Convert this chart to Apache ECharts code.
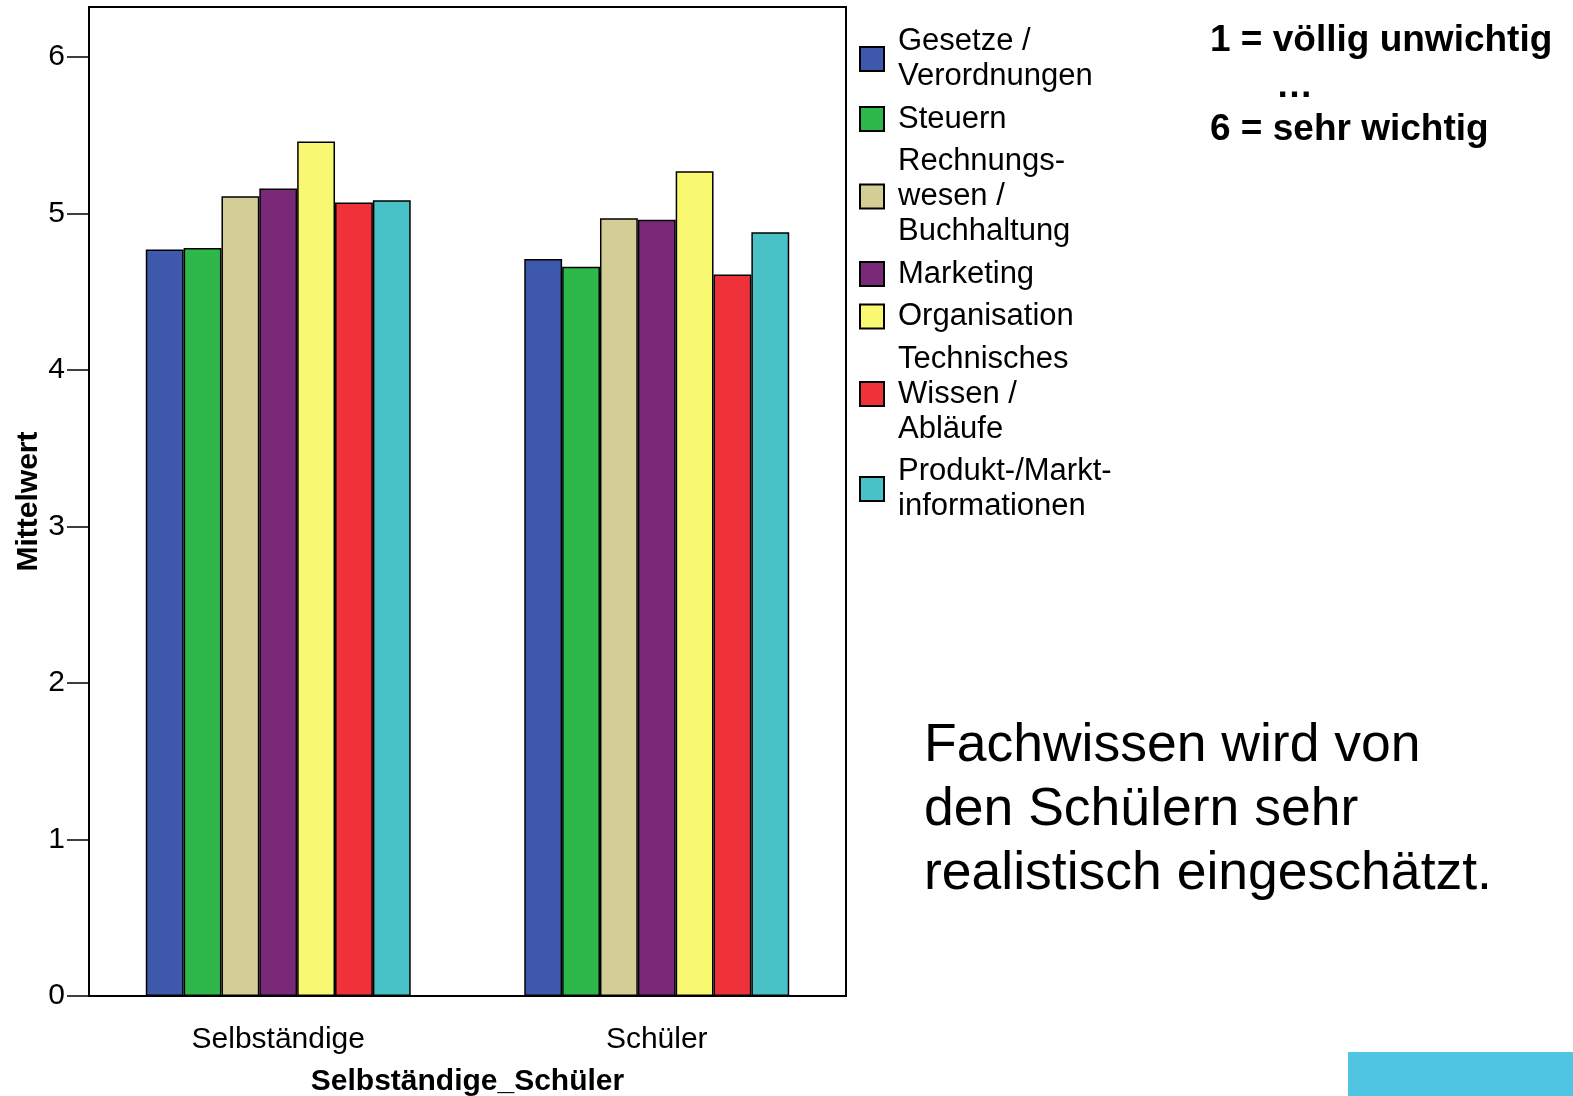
<!DOCTYPE html>
<html><head><meta charset="utf-8">
<script src="https://cdn.jsdelivr.net/npm/echarts@6/dist/echarts.min.js"></script>
<style>html,body{margin:0;padding:0;background:#fff}#c{width:1573px;height:1096px}</style>
</head><body><div id="c"></div>
<script>
const categories = ['Selbständige', 'Schüler'];
const seriesNames = ['Gesetze /\nVerordnungen', 'Steuern', 'Rechnungs-\nwesen /\nBuchhaltung', 'Marketing', 'Organisation', 'Technisches\nWissen /\nAbläufe', 'Produkt-/Markt-\ninformationen'];
const gesetze = [4.77, 4.71];
const steuern = [4.78, 4.66];
const rechnungswesen = [5.11, 4.97];
const marketing = [5.16, 4.96];
const organisation = [5.46, 5.27];
const technisches = [5.07, 4.61];
const produkt = [5.085, 4.88];
const yTicks = [0, 1, 2, 3, 4, 5, 6];
const colors = ['#3e59ab', '#2fb84a', '#d4cd96', '#7a2878', '#f9f871', '#ef3239', '#48c2c6'];
const values = [gesetze, steuern, rechnungswesen, marketing, organisation, technisches, produkt];
const FONT = 'Liberation Sans, Arial, sans-serif';

const chart = echarts.init(document.getElementById('c'));
chart.setOption({
  animation: false,
  backgroundColor: '#fff',
  textStyle: { fontFamily: FONT },
  grid: { left: 89, top: 7, right: 727, bottom: 100, show: true, borderColor: '#000', borderWidth: 2, containLabel: false, outerBoundsMode: 'none' },
  xAxis: {
    type: 'category', data: categories,
    axisLine: { lineStyle: { color: '#000', width: 2 } },
    axisTick: { alignWithLabel: true, length: 25, lineStyle: { color: '#000', width: 1.5 } },
    axisLabel: { color: '#000', fontSize: 30, margin: 29, fontFamily: FONT },
    name: 'Selbständige_Schüler', nameLocation: 'middle', nameGap: 71,
    nameTextStyle: { color: '#000', fontSize: 30, fontWeight: 'bold', fontFamily: FONT }
  },
  yAxis: {
    type: 'value', min: 0, max: 6.32, interval: 1,
    splitLine: { show: false },
    axisLine: { show: true, lineStyle: { color: '#000', width: 2 } },
    axisTick: { show: true, length: 22, customValues: yTicks, lineStyle: { color: '#000', width: 1.5 } },
    axisLabel: { color: '#000', fontSize: 30, margin: 24, customValues: yTicks, fontFamily: FONT },
    name: 'Mittelwert', nameLocation: 'middle', nameGap: 45, nameRotate: 90,
    nameTextStyle: { color: '#000', fontSize: 30, fontWeight: 'bold', fontFamily: FONT }
  },
  legend: {
    orient: 'vertical', left: 854, top: 19,
    itemWidth: 24, itemHeight: 24, itemGap: 7.5, icon: 'rect',
    textStyle: { fontSize: 31, lineHeight: 35, color: '#000', fontFamily: FONT, padding: [0, 0, 0, 9] },
    data: seriesNames
  },
  series: seriesNames.map((n, i) => ({
    name: n, type: 'bar', data: values[i],
    barGap: '0%', barCategoryGap: '30%',
    itemStyle: { color: colors[i], borderColor: '#000', borderWidth: 1.5 }
  })),
  graphic: [
    { type: 'text', left: 1210, top: 22, style: { text: '1 = völlig unwichtig', font: 'bold 37px ' + FONT, fill: '#000' } },
    { type: 'text', left: 1276, top: 68, style: { text: '…', font: 'bold 37px ' + FONT, fill: '#000' } },
    { type: 'text', left: 1210, top: 111, style: { text: '6 = sehr wichtig', font: 'bold 37px ' + FONT, fill: '#000' } },
    { type: 'text', left: 924, top: 714, style: { text: 'Fachwissen wird von\nden Schülern sehr\nrealistisch eingeschätzt.', font: '53.5px ' + FONT, lineHeight: 64, fill: '#000' } },
    { type: 'rect', shape: { x: 1348, y: 1052, width: 225, height: 44 }, style: { fill: '#50c5e3' } }
  ]
});
</script></body></html>
